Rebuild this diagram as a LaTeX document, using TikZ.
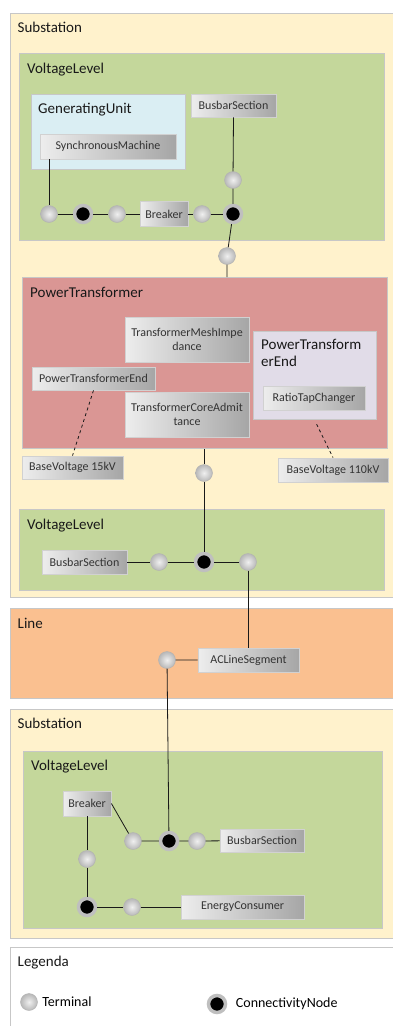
\documentclass[tikz,border=0pt]{standalone}
\usepackage{fontspec}
\setmainfont{Carlito}
\usepackage{tikz}
\usetikzlibrary{positioning}
\definecolor{subyellow}{HTML}{FFF2CC}
\definecolor{vlgreen}{HTML}{C4D79B}
\definecolor{gublue}{HTML}{DAEEF3}
\definecolor{ptred}{HTML}{DA9694}
\definecolor{ptelilac}{HTML}{E1DCE8}
\definecolor{lineorange}{HTML}{FAC090}

\begin{document}
\begin{tikzpicture}[
  x=1pt, y=-1pt,
  ctnr/.style={rectangle, draw=black!22, line width=1.2pt, fill=#1, anchor=north west, inner sep=0pt},
  ttl/.style={anchor=base west, inner sep=0pt, font=\fontsize{15}{17}\selectfont, text=black!90},
  gbox/.style={rectangle, draw=black!18, line width=0.8pt, left color=black!7, right color=black!35, inner sep=1pt, font=\fontsize{12}{13.5}\selectfont, text=black!80, align=center},
  term/.style={circle, draw=black!30, inner color=black!6, outer color=black!28, minimum size=17pt, inner sep=0pt},
  cnode/.style={circle, draw=black!25, line width=3.5pt, fill=black, minimum size=17pt, inner sep=0pt},
  wire/.style={draw=black!90, line width=0.8pt}
]
  \clip (0,0) rectangle (393,1026);

  % Upper substation
  \node[ctnr=subyellow, minimum width=390.5pt, minimum height=584.5pt] (sub1) at (9.5,12.5) {};
  \node[ttl] at ([shift={(8,20)}]sub1.north west) {Substation};
  \node[ctnr=vlgreen, minimum width=365pt, minimum height=187pt] (vl1) at (19,53) {};
  \node[ttl] at ([shift={(8,20)}]vl1.north west) {VoltageLevel};
  \node[ctnr=gublue, minimum width=154pt, minimum height=75pt] (gu) at (31,94) {};
  \node[ttl] at ([shift={(7,19)}]gu.north west) {GeneratingUnit};
  \node[gbox, minimum width=136pt, minimum height=25pt] (sm) at (108,146.5) {SynchronousMachine};
  \node[gbox, minimum width=85pt, minimum height=23pt] (bus1) at (233.5,105.5) {BusbarSection};
  \node[gbox, minimum width=48pt, minimum height=25pt] (brk1) at (164,214) {Breaker};

  \node[term] (t1) at (49,214) {};
  \node[cnode] (cn1) at (83,214) {};
  \node[term] (t2) at (117,214) {};
  \node[term] (t3) at (202,214) {};
  \node[cnode] (cn2) at (233,214) {};
  \node[term] (t4) at (233,180) {};
  \node[term] (t5) at (227,256) {};

  % Power transformer
  \node[ctnr=ptred, minimum width=365pt, minimum height=171pt] (pt) at (22,277) {};
  \node[ttl] at ([shift={(8,20)}]pt.north west) {PowerTransformer};
  \node[gbox, minimum width=124pt, minimum height=45pt] (tmi) at (187,339.5) {TransformerMeshImpe\\dance};
  \node[gbox, minimum width=123pt, minimum height=23pt] (pteL) at (93.5,378.5) {PowerTransformerEnd};
  \node[gbox, minimum width=124pt, minimum height=45pt] (tca) at (187,414.5) {TransformerCoreAdmit\\tance};
  \node[ctnr=ptelilac, minimum width=123pt, minimum height=88pt] (pte) at (253,331) {};
  \node[ttl, align=left] at ([shift={(8,35)}]pte.north west) {PowerTransform\\erEnd};
  \node[gbox, minimum width=102pt, minimum height=24pt] (rtc) at (314,398) {RatioTapChanger};
  \node[gbox, minimum width=101pt, minimum height=23pt] (bv15) at (72.5,467.5) {BaseVoltage 15kV};
  \node[gbox, minimum width=110pt, minimum height=24pt] (bv110) at (333,470) {BaseVoltage 110kV};
  \node[term] (t6) at (204,473) {};

  % Second voltage level
  \node[ctnr=vlgreen, minimum width=365pt, minimum height=81pt] (vl2) at (19,509) {};
  \node[ttl] at ([shift={(8,20)}]vl2.north west) {VoltageLevel};
  \node[gbox, minimum width=85pt, minimum height=24pt] (bus2) at (84.5,562) {BusbarSection};
  \node[term] (t7) at (159,562) {};
  \node[cnode] (cn3) at (204,562) {};
  \node[term] (t8) at (248,562) {};

  % Line
  \node[ctnr=lineorange, minimum width=390.5pt, minimum height=90pt] (lineC) at (9.5,608) {};
  \node[ttl] at ([shift={(8,20)}]lineC.north west) {Line};
  \node[gbox, minimum width=101pt, minimum height=24pt] (acl) at (248.5,660) {ACLineSegment};
  \node[term] (t9) at (167,660) {};

  % Lower substation
  \node[ctnr=subyellow, minimum width=390.5pt, minimum height=229pt] (sub2) at (9.5,709) {};
  \node[ttl] at ([shift={(8,19)}]sub2.north west) {Substation};
  \node[ctnr=vlgreen, minimum width=359pt, minimum height=177pt] (vl3) at (23,751) {};
  \node[ttl] at ([shift={(8,19)}]vl3.north west) {VoltageLevel};
  \node[gbox, minimum width=48pt, minimum height=25pt] (brk2) at (87,803.5) {Breaker};
  \node[gbox, minimum width=84pt, minimum height=23pt] (bus3) at (262,840.5) {BusbarSection};
  \node[gbox, minimum width=123pt, minimum height=24pt] (ec) at (242.5,907) {EnergyConsumer};
  \node[term] (t10) at (133,841) {};
  \node[cnode] (cn4) at (169,841) {};
  \node[term] (t11) at (197,841) {};
  \node[term] (t12) at (87,859) {};
  \node[cnode] (cn5) at (87,907) {};
  \node[term] (t13) at (132,907) {};

  % Legend
  \node[ctnr=white, minimum width=390.5pt, minimum height=90pt] (leg) at (9.5,947) {};
  \node[ttl] at ([shift={(8,19)}]leg.north west) {Legenda};
  \node[term] (legT) at (29,1002) {};
  \node[right=4.5pt of legT, inner sep=0pt, font=\fontsize{14}{16}\selectfont] {Terminal};
  \node[cnode] (legC) at (217,1004) {};
  \node[right=8.5pt of legC, inner sep=0pt, font=\fontsize{14}{16}\selectfont] {ConnectivityNode};

  % Connections
  \draw[wire] (sm.south west -| t1) -- (t1) -- (cn1) -- (t2) -- (brk1) -- (t3) -- (cn2);
  \draw[wire] (bus1.south) -- (t4) -- (cn2) -- (t5) -- (pt.north -| t5);
  \draw[wire] (pt.south -| t6) -- (t6) -- (cn3);
  \draw[wire] (bus2.east) -- (t7) -- (cn3) -- (t8) -- (acl.north -| t8);
  \draw[wire] (acl) -- (t9) -- (cn4);
  \draw[wire] (brk2.east) -- (t10) -- (cn4) -- (t11) -- (bus3);
  \draw[wire] (brk2) -- (t12) -- (cn5) -- (t13) -- (ec);
  \draw[wire, dashed] (pteL.south) -- (bv15.north);
  \draw[wire, dashed] ([shift={(1.5,4)}]pte.south) -- (bv110.north);
\end{tikzpicture}
\end{document}
